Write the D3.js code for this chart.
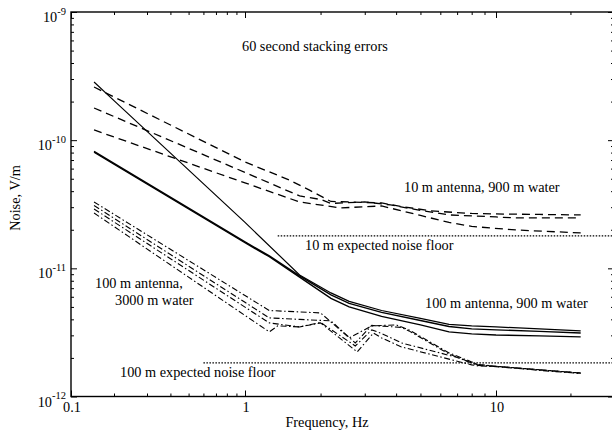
<!DOCTYPE html>
<html>
<head>
<meta charset="utf-8">
<script src="https://cdn.jsdelivr.net/npm/d3@7/dist/d3.min.js"></script>
<style>
  body { margin: 0; background: #fff; }
  svg { display: block; font-family: "Liberation Serif", "Times New Roman", serif; }
</style>
</head>
<body>
<svg id="chart" width="612" height="433"></svg>
<script>
// 100 m antenna, 900 m water (solid)
const solidAFreq = [0.145, 0.2, 1, 1.65, 2.2, 2.6, 3.5, 5, 6.5, 8, 10, 15, 22];
const solidANoise = [2.844e-10, 2.036e-10, 2.281e-11, 8.88e-12, 6.43e-12, 5.52e-12, 4.69e-12, 4.07e-12, 3.65e-12, 3.555e-12, 3.49e-12, 3.37e-12, 3.25e-12];
const solidBFreq = [0.145, 0.2, 1, 1.25, 1.65, 2.2, 2.6, 3.5, 5, 6.5, 8, 10, 15, 22];
const solidBNoise = [8.164e-11, 6.58e-11, 1.607e-11, 1.249e-11, 8.724e-12, 6.2e-12, 5.32e-12, 4.53e-12, 3.92e-12, 3.52e-12, 3.37e-12, 3.31e-12, 3.22e-12, 3.13e-12];
const solidCFreq = [0.145, 0.2, 1, 1.25, 1.65, 2.2, 2.6, 3.5, 5, 6.5, 8, 10, 15, 22];
const solidCNoise = [8.047e-11, 6.486e-11, 1.584e-11, 1.231e-11, 8.55e-12, 5.825e-12, 5.0e-12, 4.215e-12, 3.62e-12, 3.19e-12, 3.08e-12, 3.02e-12, 2.97e-12, 2.92e-12];

// 10 m antenna, 900 m water (dashed)
const dashAFreq = [0.145, 0.2, 1, 1.5, 1.8, 2.2, 2.6, 3.5, 4.2, 5.5, 8, 10, 15, 22];
const dashANoise = [2.6e-10, 2.173e-10, 6.76e-11, 4.89e-11, 4.09e-11, 3.325e-11, 3.295e-11, 3.236e-11, 3.04e-11, 2.804e-11, 2.68e-11, 2.657e-11, 2.633e-11, 2.61e-11];
const dashBFreq = [0.145, 0.2, 1, 1.65, 2, 2.2, 3, 3.8, 5, 6.5, 10, 12, 22];
const dashBNoise = [1.783e-10, 1.53e-10, 5.6e-11, 3.67e-11, 3.447e-11, 3.208e-11, 3.295e-11, 3.123e-11, 2.829e-11, 2.61e-11, 2.517e-11, 2.473e-11, 2.473e-11];
const dashCFreq = [0.145, 0.2, 1, 1.65, 2.4, 3.5, 5, 6.5, 8, 12, 22];
const dashCNoise = [1.201e-10, 1.059e-10, 4.64e-11, 3.295e-11, 2.96e-11, 3.067e-11, 2.586e-11, 2.281e-11, 2.123e-11, 1.993e-11, 1.889e-11];

// 100 m antenna, 3000 m water (dash-dot)
const dotAFreq = [0.145, 0.2, 1, 1.25, 1.65, 2, 2.6, 3.2, 4, 4.5, 6.5, 8, 8.5, 10, 15, 22];
const dotANoise = [3.295e-11, 2.638e-11, 6.135e-12, 4.688e-12, 4.57e-12, 4.49e-12, 2.865e-12, 3.555e-12, 3.62e-12, 3.31e-12, 2.189e-12, 1.862e-12, 1.78e-12, 1.723e-12, 1.619e-12, 1.528e-12];
const dotBFreq = [0.145, 0.2, 1, 1.25, 1.65, 2.2, 2.75, 3.2, 4.2, 4.5, 6.5, 8, 8.5, 10, 15, 22];
const dotBNoise = [3.095e-11, 2.459e-11, 5.43e-12, 4.104e-12, 3.995e-12, 3.89e-12, 2.619e-12, 3.586e-12, 3.459e-12, 3.25e-12, 2.149e-12, 1.828e-12, 1.764e-12, 1.72e-12, 1.615e-12, 1.525e-12];
const dotCFreq = [0.145, 0.2, 1, 1.25, 1.65, 2, 2.75, 3.2, 3.5, 4.2, 7, 8, 8.5, 10, 15, 22];
const dotCNoise = [2.906e-11, 2.301e-11, 4.982e-12, 3.751e-12, 3.49e-12, 3.785e-12, 2.481e-12, 3.31e-12, 3.106e-12, 2.619e-12, 2.018e-12, 1.828e-12, 1.748e-12, 1.715e-12, 1.61e-12, 1.52e-12];
const dotDFreq = [0.145, 0.2, 1, 1.25, 1.35, 1.65, 2, 2.8, 3.25, 3.5, 4.2, 8, 8.5, 10, 15, 22];
const dotDNoise = [2.704e-11, 2.119e-11, 4.291e-12, 3.19e-12, 3.555e-12, 3.49e-12, 3.751e-12, 2.228e-12, 3.13e-12, 2.865e-12, 2.437e-12, 1.764e-12, 1.733e-12, 1.71e-12, 1.6e-12, 1.51e-12];

// expected noise floors (dotted)
const floor10Freq = [1.35, 30];
const floor10Noise = [1.79e-11, 1.79e-11];
const floor100Freq = [0.6, 30];
const floor100Noise = [1.83e-12, 1.83e-12];

const xMajor = [0.1, 1, 10];
const xTickLabels = ['0.1', '1', '10'];
const yMajor = [1e-12, 1e-11, 1e-10, 1e-9];
const yTickExponents = ['-12', '-11', '-10', '-9'];

const svg = d3.select('#chart');
const font = 14.3;

// the scanned axis is not evenly spaced, so the log scale is piecewise
const x = d3.scaleLog().domain([0.1, 0.2, 1, 10, 30]).range([71, 114, 245, 496, 614]);
const y = d3.scaleLog().domain([1e-12, 1e-9]).range([396.5, 12]);

const isMajor = d => Math.abs(Math.log10(d) - Math.round(Math.log10(d))) < 1e-6;
const xMinor = x.ticks().filter(d => !isMajor(d));
const yMinor = y.ticks().filter(d => !isMajor(d));

function ticks(axis, values, size, tx, ty) {
  svg.append('g')
    .attr('transform', `translate(${tx},${ty})`)
    .call(axis.tickValues(values).tickSizeInner(-size).tickSizeOuter(0).tickFormat(''))
    .call(g => g.select('.domain').remove())
    .selectAll('line').attr('stroke', '#000').attr('stroke-width', 1);
}

ticks(d3.axisBottom(x), xMajor, 6, 0, 396.5);
ticks(d3.axisBottom(x), xMinor, 3, 0, 396.5);
ticks(d3.axisTop(x), xMajor, 6, 0, 12);
ticks(d3.axisTop(x), xMinor, 3, 0, 12);
ticks(d3.axisLeft(y), yMajor, 6, 71, 0);
ticks(d3.axisLeft(y), yMinor, 3, 71, 0);
ticks(d3.axisRight(y), yMajor, 6, 614, 0);
ticks(d3.axisRight(y), yMinor, 3, 614, 0);

svg.append('rect')
  .attr('x', 71).attr('y', 12)
  .attr('width', 614 - 71).attr('height', 396.5 - 12)
  .attr('fill', 'none').attr('stroke', '#000').attr('stroke-width', 1.4);

// tick labels
svg.append('g').selectAll('text').data(xMajor).join('text')
  .attr('x', d => x(d) + 1)
  .attr('y', 412)
  .attr('text-anchor', 'middle')
  .attr('font-size', font)
  .text((d, i) => xTickLabels[i]);

const yLab = svg.append('g').selectAll('text').data(yMajor).join('text')
  .attr('x', 66)
  .attr('y', d => y(d) + 10)
  .attr('text-anchor', 'end')
  .attr('font-size', font);
yLab.append('tspan').text('10');
yLab.append('tspan').attr('dy', -7.5).attr('font-size', 10.5).text((d, i) => yTickExponents[i]);

svg.append('text')
  .attr('x', 327).attr('y', 427)
  .attr('text-anchor', 'middle')
  .attr('font-size', font)
  .text('Frequency, Hz');

svg.append('text')
  .attr('transform', 'translate(20,198) rotate(-90)')
  .attr('text-anchor', 'middle')
  .attr('font-size', font)
  .text('Noise, V/m');

// curves
const line = d3.line().x(d => x(d[0])).y(d => y(d[1]));
const zip = (f, v) => f.map((d, i) => [d, v[i]]);

const series = [
  [floor10Freq, floor10Noise, '1.5,1.5', 1.3],
  [floor100Freq, floor100Noise, '1.5,1.5', 1.3],
  [dashAFreq, dashANoise, '8,5', 1.3],
  [dashBFreq, dashBNoise, '8,5', 1.3],
  [dashCFreq, dashCNoise, '8,5', 1.3],
  [dotAFreq, dotANoise, '6,2.5,1.5,2.5', 1.1],
  [dotBFreq, dotBNoise, '6,2.5,1.5,2.5', 1.1],
  [dotCFreq, dotCNoise, '6,2.5,1.5,2.5', 1.1],
  [dotDFreq, dotDNoise, '6,2.5,1.5,2.5', 1.1],
  [solidAFreq, solidANoise, null, 1.2],
  [solidBFreq, solidBNoise, null, 1.4],
  [solidCFreq, solidCNoise, null, 1.4]
];

svg.append('g').selectAll('path').data(series).join('path')
  .attr('d', d => line(zip(d[0], d[1])))
  .attr('fill', 'none')
  .attr('stroke', '#000')
  .attr('stroke-width', d => d[3])
  .attr('stroke-dasharray', d => d[2]);

// annotations
const notes = [
  ['60 second stacking errors', 242, 51],
  ['10 m antenna, 900 m water', 404, 192],
  ['10 m expected noise floor', 305, 250],
  ['100 m antenna, 900 m water', 425, 308],
  ['100 m antenna,', 95, 288],
  ['3000 m water', 115, 305],
  ['100 m expected noise floor', 120, 377]
];

svg.append('g').selectAll('text').data(notes).join('text')
  .attr('x', d => d[1])
  .attr('y', d => d[2])
  .attr('font-size', font)
  .text(d => d[0]);
</script>
</body>
</html>
